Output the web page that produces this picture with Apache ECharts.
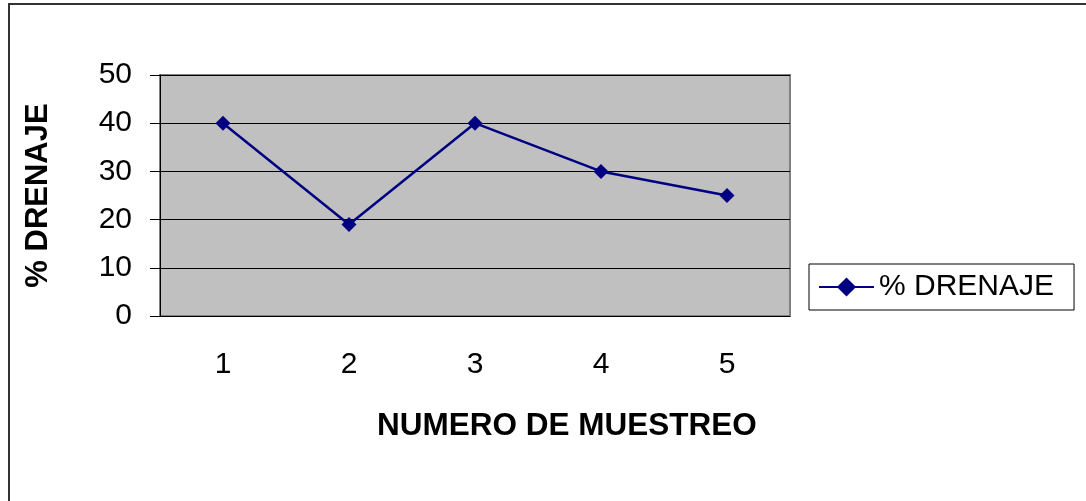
<!DOCTYPE html>
<html>
<head>
<meta charset="utf-8">
<script src="https://cdn.jsdelivr.net/npm/echarts@6/dist/echarts.min.js"></script>
<style>
  html, body { margin: 0; padding: 0; background: #fff; }
  #chart { width: 1086px; height: 501px; }
</style>
</head>
<body>
<div id="chart"></div>
<script>
// data
const muestreo = ['1', '2', '3', '4', '5']
const drenaje = [40, 19, 40, 30, 25]
const yTicks = [0, 10, 20, 30, 40, 50]

const font = 'Arial, "Liberation Sans", sans-serif'
const chart = echarts.init(document.getElementById('chart'))

chart.setOption({
  animation: false,
  backgroundColor: '#fff',
  graphic: [{
    type: 'rect',
    shape: { x: 9, y: 4, width: 1200, height: 700 },
    style: { fill: 'transparent', stroke: '#333', lineWidth: 2 },
    silent: true
  }, {
    // x axis title sits off-centre in the original, so place it by hand
    type: 'text',
    left: 377, top: 410,
    style: {
      text: 'NUMERO DE MUESTREO',
      font: 'bold 31.5px Arial, "Liberation Sans", sans-serif',
      fill: '#000'
    },
    silent: true
  }],
  grid: {
    left: 160, top: 75, width: 630, height: 241,
    show: true,
    backgroundColor: '#c0c0c0',
    borderColor: '#808080',
    borderWidth: 2
  },
  legend: {
    left: 809, top: 264,
    padding: [8, 20, 8, 9],
    backgroundColor: '#fff',
    borderColor: '#000',
    borderWidth: 1,
    borderRadius: 0,
    itemWidth: 55,
    itemHeight: 24,
    itemGap: 9,
    textStyle: { fontFamily: font, fontSize: 30, color: '#000' },
    data: ['% DRENAJE']
  },
  xAxis: {
    type: 'category',
    data: muestreo,
    boundaryGap: true,
    axisLine: { lineStyle: { color: '#000', width: 1 } },
    axisTick: { alignWithLabel: false, length: 10, lineStyle: { color: '#000' } },
    axisLabel: { fontFamily: font, fontSize: 30, color: '#000', margin: 34 }
  },
  yAxis: {
    type: 'value',
    min: yTicks[0],
    max: yTicks[yTicks.length - 1],
    interval: 10,
    name: '% DRENAJE',
    nameLocation: 'middle',
    nameGap: 106,
    nameRotate: 90,
    nameTextStyle: { fontFamily: font, fontSize: 31, fontWeight: 'bold', color: '#000' },
    axisLine: { show: true, lineStyle: { color: '#000', width: 1 } },
    axisTick: { show: true, length: 10, lineStyle: { color: '#000' } },
    axisLabel: { fontFamily: font, fontSize: 30, color: '#000', margin: 28 },
    splitLine: { lineStyle: { color: '#000', width: 1 } }
  },
  series: [{
    name: '% DRENAJE',
    type: 'line',
    data: drenaje,
    symbol: 'diamond',
    symbolSize: 15,
    lineStyle: { color: '#000080', width: 2.5 },
    itemStyle: { color: '#000080' }
  }]
})
</script>
</body>
</html>
